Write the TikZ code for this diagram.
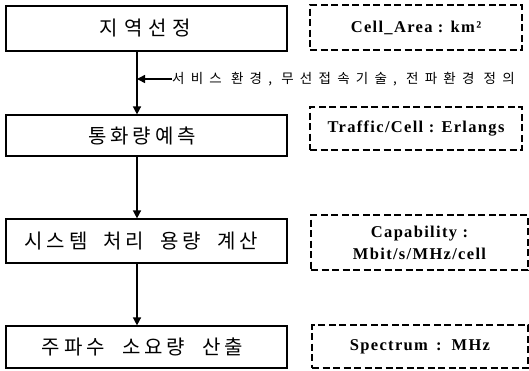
\documentclass[tikz,border=0pt]{standalone}
\usepackage{fontspec}
\usetikzlibrary{arrows.meta}
\newfontfamily\krA[LetterSpace=20]{Noto Sans CJK KR}
\newfontfamily\krC[LetterSpace=30]{Noto Sans CJK KR}
\newfontfamily\krB[LetterSpace=46]{Noto Sans CJK KR}
\newfontfamily\enA[LetterSpace=8]{Liberation Serif}
\begin{document}
\begin{tikzpicture}[x=1pt,y=-1pt,
  stepbox/.style={draw=black,line width=1.2pt,minimum width=281pt,inner sep=0pt,font=\krA\fontsize{20}{24}\selectfont},
  unitbox/.style={draw=black,line width=1.4pt,dash pattern=on 7pt off 3.5pt,inner sep=0pt,align=center,font=\enA\bfseries\fontsize{16.5}{22}\selectfont},
  arr/.style={line width=1.5pt,-{Triangle[length=8pt,width=8pt]}}]
\useasboundingbox (0,0) rectangle (529,370);
% step boxes
\node[stepbox,minimum height=45pt] (b1) at (146.5,28.5) {\hspace*{-2pt}{\krC 지역선정}};
\node[stepbox,minimum height=41pt] (b2) at (146.5,135.5) {\hspace*{-9pt}통화량\hspace{4pt}예측};
\node[stepbox,minimum height=44pt] (b3) at (146.5,241) {\hspace*{-11pt}시스템\hspace{16pt}처리\hspace{16pt}용량\hspace{16pt}계산};
\node[stepbox,minimum height=42pt] (b4) at (146.5,347) {\hspace*{-8pt}주파수\hspace{17pt}소요량\hspace{17pt}산출};
% unit boxes
\node[unitbox,minimum width=212pt,minimum height=45pt] (u1) at (416,27.5) {Cell\_Area : km²};
\node[unitbox,minimum width=212pt,minimum height=43pt] (u2) at (416,128.5) {Traffic/Cell : Erlangs};
\node[unitbox,minimum width=217pt,minimum height=55pt] (u3) at (419.5,242.5) {Capability :\\Mbit/s/MHz/cell};
\node[unitbox,minimum width=216pt,minimum height=43pt] (u4) at (420,346.5) {Spectrum \,:\, MHz};
% flow arrows
\draw[arr] ([xshift=-9.5pt]b1.south) -- ([xshift=-9.5pt]b2.north);
\draw[arr] ([xshift=-9.5pt]b2.south) -- ([xshift=-9.5pt]b3.north);
\draw[arr] ([xshift=-9.5pt]b3.south) -- ([xshift=-9.5pt]b4.north);
% side input
\node[anchor=west,inner sep=0pt,font=\krB\fontsize{13.5}{15}\selectfont] (lab) at (172,79) {서비스 환경, 무선접속기술, 전파환경 정의};
\coordinate (j) at (137,79);
\draw[arr] (lab.west) -- (j);
\end{tikzpicture}
\end{document}
